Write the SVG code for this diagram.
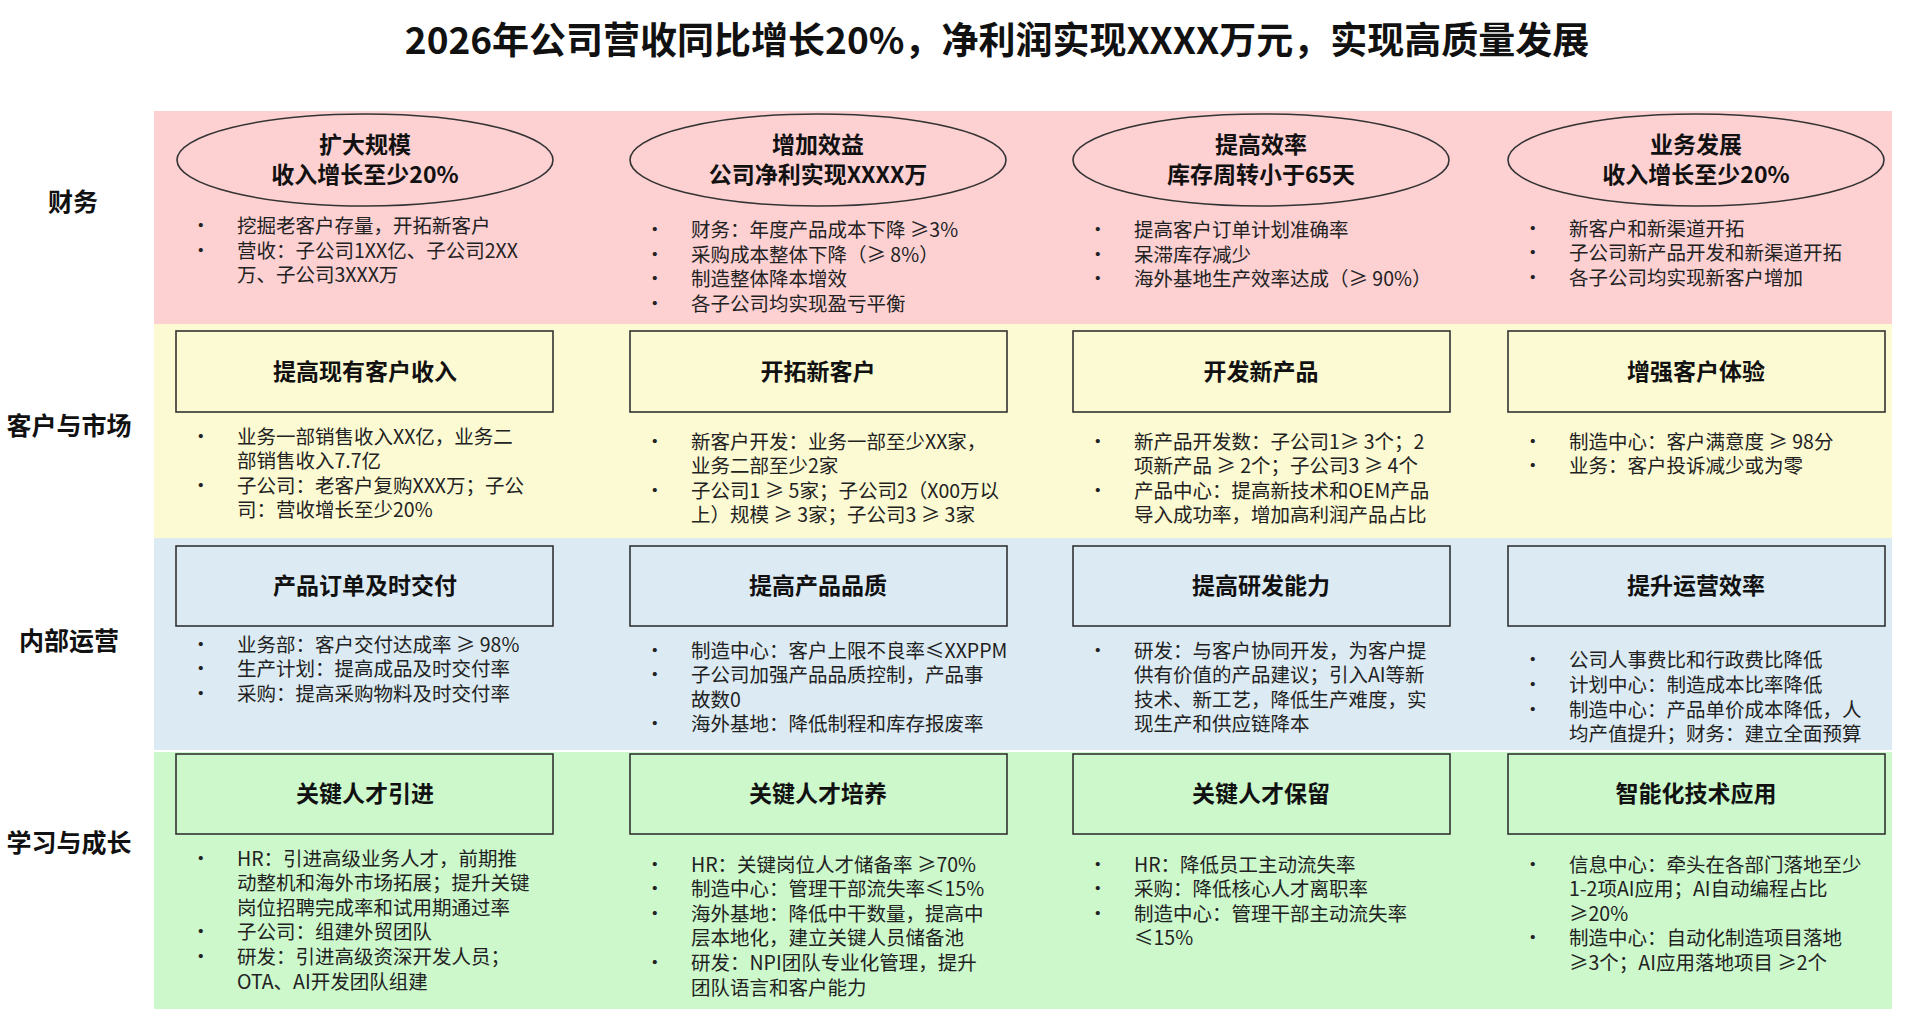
<svg xmlns="http://www.w3.org/2000/svg" width="1919" height="1032" viewBox="0 0 1919 1032">
<style>
text{font-family:"Noto Sans CJK SC","Liberation Sans",sans-serif;fill:#111}
.t{font-size:37px;font-weight:bold;text-anchor:middle}
.l{font-size:25px;font-weight:bold;text-anchor:middle}
.h{font-size:23px;font-weight:bold;text-anchor:middle}
.b{font-size:19.5px;fill:#222}
.box{stroke:#333;stroke-width:1.6}
</style>
<rect width="1919" height="1032" fill="#fff"/>
<text class="t" x="997" y="54">2026年公司营收同比增长20%，净利润实现XXXX万元，实现高质量发展</text>
<g id="bands">
<rect x="154" y="111" width="1738" height="213" fill="#fdd0d2"/>
<rect x="154" y="324" width="1738" height="214" fill="#fcfad2"/>
<rect x="154" y="538" width="1738" height="212" fill="#dcebf3"/>
<rect x="154" y="752" width="1738" height="257" fill="#ccf8cc"/>
</g>
<g id="labels">
<text class="l" x="73" y="211">财务</text>
<text class="l" x="69" y="435">客户与市场</text>
<text class="l" x="69" y="650">内部运营</text>
<text class="l" x="69" y="852">学习与成长</text>
</g>
<g id="finance">
<g id="f1"><ellipse class="box" cx="365" cy="160" rx="188" ry="46" fill="#fdd0d2"/><text class="h" x="365" y="153">扩大规模</text><text class="h" x="365" y="183">收入增长至少20%</text></g>
<g id="f2"><ellipse class="box" cx="818" cy="160" rx="188" ry="46" fill="#fdd0d2"/><text class="h" x="818" y="153">增加效益</text><text class="h" x="818" y="183">公司净利实现XXXX万</text></g>
<g id="f3"><ellipse class="box" cx="1261" cy="160" rx="188" ry="46" fill="#fdd0d2"/><text class="h" x="1261" y="153">提高效率</text><text class="h" x="1261" y="183">库存周转小于65天</text></g>
<g id="f4"><ellipse class="box" cx="1696" cy="160" rx="188" ry="46" fill="#fdd0d2"/><text class="h" x="1696" y="153">业务发展</text><text class="h" x="1696" y="183">收入增长至少20%</text></g>
</g>
<g id="headers">
<g fill="#fcfad2"><rect class="box" x="176" y="331" width="377" height="81"/><rect class="box" x="630" y="331" width="377" height="81"/><rect class="box" x="1073" y="331" width="377" height="81"/><rect class="box" x="1508" y="331" width="377" height="81"/></g>
<g fill="#dcebf3"><rect class="box" x="176" y="546" width="377" height="80"/><rect class="box" x="630" y="546" width="377" height="80"/><rect class="box" x="1073" y="546" width="377" height="80"/><rect class="box" x="1508" y="546" width="377" height="80"/></g>
<g fill="#ccf8cc"><rect class="box" x="176" y="754" width="377" height="80"/><rect class="box" x="630" y="754" width="377" height="80"/><rect class="box" x="1073" y="754" width="377" height="80"/><rect class="box" x="1508" y="754" width="377" height="80"/></g>
<text class="h" x="365" y="380">提高现有客户收入</text><text class="h" x="818" y="380">开拓新客户</text><text class="h" x="1261" y="380">开发新产品</text><text class="h" x="1696" y="380">增强客户体验</text>
<text class="h" x="365" y="594">产品订单及时交付</text><text class="h" x="818" y="594">提高产品品质</text><text class="h" x="1261" y="594">提高研发能力</text><text class="h" x="1696" y="594">提升运营效率</text>
<text class="h" x="365" y="802">关键人才引进</text><text class="h" x="818" y="802">关键人才培养</text><text class="h" x="1261" y="802">关键人才保留</text><text class="h" x="1696" y="802">智能化技术应用</text>
</g>
<g id="bullets" class="b">
<text class="b" x="191" y="233">•</text><text class="b" x="191" y="258">•</text>
<text class="b" x="237" y="233">挖掘老客户存量，开拓新客户</text><text class="b" x="237" y="258">营收：子公司1XX亿、子公司2XX</text><text class="b" x="237" y="282">万、子公司3XXX万</text>
<text class="b" x="645" y="237">•</text><text class="b" x="645" y="262">•</text><text class="b" x="645" y="286">•</text><text class="b" x="645" y="311">•</text>
<text class="b" x="691" y="237">财务：年度产品成本下降 ≥3%</text><text class="b" x="691" y="262">采购成本整体下降（≥ 8%）</text><text class="b" x="691" y="286">制造整体降本增效</text><text class="b" x="691" y="311">各子公司均实现盈亏平衡</text>
<text class="b" x="1088" y="237">•</text><text class="b" x="1088" y="262">•</text><text class="b" x="1088" y="286">•</text>
<text class="b" x="1134" y="237">提高客户订单计划准确率</text><text class="b" x="1134" y="262">呆滞库存减少</text><text class="b" x="1134" y="286">海外基地生产效率达成（≥ 90%）</text>
<text class="b" x="1523" y="236">•</text><text class="b" x="1523" y="260">•</text><text class="b" x="1523" y="285">•</text>
<text class="b" x="1569" y="236">新客户和新渠道开拓</text><text class="b" x="1569" y="260">子公司新产品开发和新渠道开拓</text><text class="b" x="1569" y="285">各子公司均实现新客户增加</text>

<text class="b" x="191" y="444">•</text><text class="b" x="191" y="493">•</text>
<text class="b" x="237" y="444">业务一部销售收入XX亿，业务二</text><text class="b" x="237" y="468">部销售收入7.7亿</text><text class="b" x="237" y="493">子公司：老客户复购XXX万；子公</text><text class="b" x="237" y="517">司：营收增长至少20%</text>
<text class="b" x="645" y="449">•</text><text class="b" x="645" y="498">•</text>
<text class="b" x="691" y="449">新客户开发：业务一部至少XX家，</text><text class="b" x="691" y="473">业务二部至少2家</text><text class="b" x="691" y="498">子公司1 ≥ 5家；子公司2（X00万以</text><text class="b" x="691" y="522">上）规模 ≥ 3家；子公司3 ≥ 3家</text>
<text class="b" x="1088" y="449">•</text><text class="b" x="1088" y="498">•</text>
<text class="b" x="1134" y="449">新产品开发数：子公司1≥ 3个；2</text><text class="b" x="1134" y="473">项新产品 ≥ 2个；子公司3 ≥ 4个</text><text class="b" x="1134" y="498">产品中心：提高新技术和OEM产品</text><text class="b" x="1134" y="522">导入成功率，增加高利润产品占比</text>
<text class="b" x="1523" y="449">•</text><text class="b" x="1523" y="473">•</text>
<text class="b" x="1569" y="449">制造中心：客户满意度 ≥ 98分</text><text class="b" x="1569" y="473">业务：客户投诉减少或为零</text>

<text class="b" x="191" y="652">•</text><text class="b" x="191" y="676">•</text><text class="b" x="191" y="701">•</text>
<text class="b" x="237" y="652">业务部：客户交付达成率 ≥ 98%</text><text class="b" x="237" y="676">生产计划：提高成品及时交付率</text><text class="b" x="237" y="701">采购：提高采购物料及时交付率</text>
<text class="b" x="645" y="658">•</text><text class="b" x="645" y="682">•</text><text class="b" x="645" y="731">•</text>
<text class="b" x="691" y="658">制造中心：客户上限不良率≤XXPPM</text><text class="b" x="691" y="682">子公司加强产品品质控制，产品事</text><text class="b" x="691" y="707">故数0</text><text class="b" x="691" y="731">海外基地：降低制程和库存报废率</text>
<text class="b" x="1088" y="658">•</text>
<text class="b" x="1134" y="658">研发：与客户协同开发，为客户提</text><text class="b" x="1134" y="682">供有价值的产品建议；引入AI等新</text><text class="b" x="1134" y="707">技术、新工艺，降低生产难度，实</text><text class="b" x="1134" y="731">现生产和供应链降本</text>
<text class="b" x="1523" y="667">•</text><text class="b" x="1523" y="692">•</text><text class="b" x="1523" y="717">•</text>
<text class="b" x="1569" y="667">公司人事费比和行政费比降低</text><text class="b" x="1569" y="692">计划中心：制造成本比率降低</text><text class="b" x="1569" y="717">制造中心：产品单价成本降低，人</text><text class="b" x="1569" y="741">均产值提升；财务：建立全面预算</text>

<text class="b" x="191" y="866">•</text><text class="b" x="191" y="939">•</text><text class="b" x="191" y="964">•</text>
<text class="b" x="237" y="866">HR：引进高级业务人才，前期推</text><text class="b" x="237" y="890">动整机和海外市场拓展；提升关键</text><text class="b" x="237" y="915">岗位招聘完成率和试用期通过率</text><text class="b" x="237" y="939">子公司：组建外贸团队</text><text class="b" x="237" y="964">研发：引进高级资深开发人员；</text><text class="b" x="237" y="989">OTA、AI开发团队组建</text>
<text class="b" x="645" y="872">•</text><text class="b" x="645" y="896">•</text><text class="b" x="645" y="921">•</text><text class="b" x="645" y="970">•</text>
<text class="b" x="691" y="872">HR：关键岗位人才储备率 ≥70%</text><text class="b" x="691" y="896">制造中心：管理干部流失率≤15%</text><text class="b" x="691" y="921">海外基地：降低中干数量，提高中</text><text class="b" x="691" y="945">层本地化，建立关键人员储备池</text><text class="b" x="691" y="970">研发：NPI团队专业化管理，提升</text><text class="b" x="691" y="995">团队语言和客户能力</text>
<text class="b" x="1088" y="872">•</text><text class="b" x="1088" y="896">•</text><text class="b" x="1088" y="921">•</text>
<text class="b" x="1134" y="872">HR：降低员工主动流失率</text><text class="b" x="1134" y="896">采购：降低核心人才离职率</text><text class="b" x="1134" y="921">制造中心：管理干部主动流失率</text><text class="b" x="1134" y="945">≤15%</text>
<text class="b" x="1523" y="872">•</text><text class="b" x="1523" y="945">•</text>
<text class="b" x="1569" y="872">信息中心：牵头在各部门落地至少</text><text class="b" x="1569" y="896">1-2项AI应用；AI自动编程占比</text><text class="b" x="1569" y="921">≥20%</text><text class="b" x="1569" y="945">制造中心：自动化制造项目落地</text><text class="b" x="1569" y="970">≥3个；AI应用落地项目 ≥2个</text>
</g>
</svg>
